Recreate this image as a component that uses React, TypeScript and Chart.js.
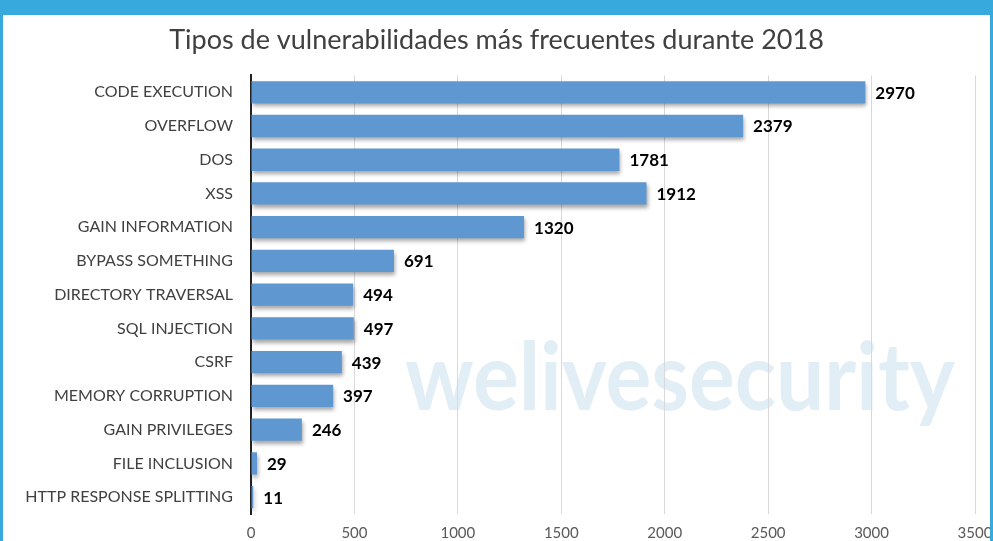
import React, { useEffect, useRef } from "react";
import { Chart, registerables } from "chart.js";

Chart.register(...registerables);

const categories = [
  "CODE EXECUTION",
  "OVERFLOW",
  "DOS",
  "XSS",
  "GAIN INFORMATION",
  "BYPASS SOMETHING",
  "DIRECTORY TRAVERSAL",
  "SQL INJECTION",
  "CSRF",
  "MEMORY CORRUPTION",
  "GAIN PRIVILEGES",
  "FILE INCLUSION",
  "HTTP RESPONSE SPLITTING",
];
const values = [2970, 2379, 1781, 1912, 1320, 691, 494, 497, 439, 397, 246, 29, 11];
const titleText = "Tipos de vulnerabilidades más frecuentes durante 2018";
const watermarkText = "welivesecurity";
const xMax = 3500;
const xStep = 500;

const FONT = "Lato, 'Open Sans', sans-serif";

const watermarkPlugin = {
  id: "watermark",
  beforeDraw(chart: any) {
    const ctx = chart.ctx;
    ctx.save();
    ctx.font = `bold 94px ${FONT}`;
    ctx.fillStyle = "#e2eef6";
    ctx.textAlign = "center";
    ctx.textBaseline = "alphabetic";
    ctx.fillText(watermarkText, 677, 395, 550);
    ctx.restore();
  },
  beforeDatasetsDraw(chart: any) {
    const ctx = chart.ctx;
    ctx.save();
    ctx.shadowColor = "rgba(0,0,0,0.35)";
    ctx.shadowOffsetX = 1;
    ctx.shadowOffsetY = 3;
    ctx.shadowBlur = 4;
  },
  afterDatasetsDraw(chart: any) {
    const ctx = chart.ctx;
    ctx.restore();
    const meta = chart.getDatasetMeta(0);
    ctx.save();
    ctx.font = `bold 17px ${FONT}`;
    ctx.fillStyle = "#000";
    ctx.textAlign = "left";
    ctx.textBaseline = "middle";
    meta.data.forEach((bar: any, i: number) => {
      ctx.fillText(String(values[i]), bar.x + 10, bar.y + 1);
    });
    ctx.restore();
  },
};

export default function App() {
  const ref = useRef<HTMLCanvasElement | null>(null);
  useEffect(() => {
    if (!ref.current) return;
    const chart = new Chart(ref.current, {
      type: "bar",
      data: {
        labels: categories,
        datasets: [
          {
            data: values,
            backgroundColor: "#5f98d1",
            borderWidth: 0,
            categoryPercentage: 0.66,
            barPercentage: 1,
          },
        ],
      },
      options: {
        indexAxis: "y",
        animation: false,
        responsive: false,
        maintainAspectRatio: false,
        layout: { padding: { left: 0, right: 0, top: 0, bottom: 4 } },
        plugins: {
          legend: { display: false },
          tooltip: { enabled: false },
          title: {
            display: true,
            text: titleText,
            color: "#404040",
            font: { family: FONT, size: 27, weight: "normal" },
            padding: { top: 9, bottom: 19 },
          },
        },
        scales: {
          x: {
            min: 0,
            max: xMax,
            ticks: {
              stepSize: xStep,
              color: "#595959",
              font: { family: FONT, size: 15 },
              padding: 10,
              callback: (v: any) => String(v),
            },
            grid: { color: "#d9d9d9", drawTicks: false },
            border: { display: false },
            afterFit(scale: any) {
              scale.paddingRight = 15;
              scale.paddingLeft = 0;
            },
          },
          y: {
            ticks: {
              color: "#404040",
              font: { family: FONT, size: 16 },
              padding: 18,
            },
            grid: { display: false, drawTicks: false },
            border: { display: true, color: "#222", width: 2 },
            afterFit(scale: any) {
              scale.width = 248;
            },
          },
        },
      },
      plugins: [watermarkPlugin],
    } as any);
    return () => chart.destroy();
  }, []);

  return (
    <div
      style={{
        position: "fixed",
        left: 0,
        top: 0,
        width: 993,
        height: 541,
        background: "#37a9dd",
        overflow: "hidden",
      }}
    >
      <div
        style={{
          position: "absolute",
          left: 3,
          top: 15,
          width: 987,
          height: 550,
          background: "#fff",
        }}
      >
        <canvas ref={ref} width={987} height={541} style={{ display: "block" }} />
      </div>
    </div>
  );
}
